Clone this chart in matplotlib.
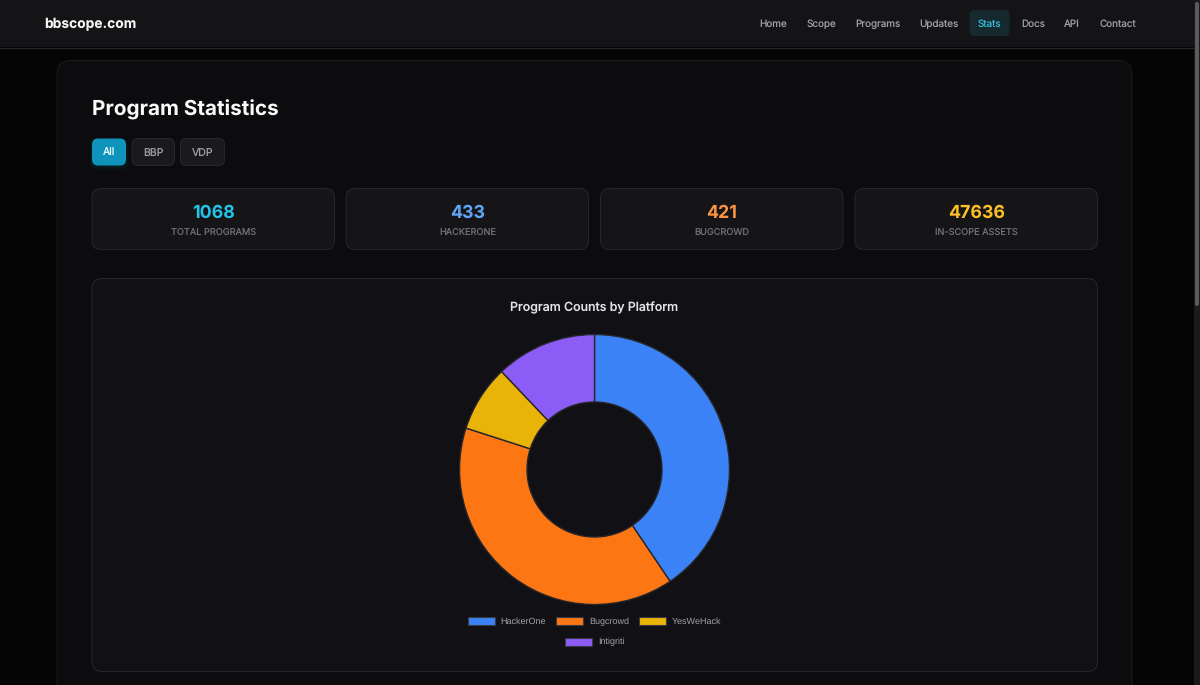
import matplotlib
matplotlib.use('Agg')
import matplotlib.pyplot as plt
from matplotlib.patches import FancyBboxPatch, Rectangle

W, H = 1200, 685

platforms = ['HackerOne', 'Bugcrowd', 'YesWeHack', 'Intigriti']
program_counts = [433, 421, 85, 129]
platform_colors = ['#3b82f6', '#fc7714', '#eab308', '#8b5cf6']

nav_labels = ['Home', 'Scope', 'Programs', 'Updates', 'Stats', 'Docs', 'API', 'Contact']
nav_x = [773.5, 821.5, 878, 939, 989.5, 1033, 1072, 1118]

filter_labels = ['All', 'BBP', 'VDP']

stat_values = ['1068', '433', '421', '47636']
stat_labels = ['TOTAL PROGRAMS', 'HACKERONE', 'BUGCROWD', 'IN-SCOPE ASSETS']
stat_colors = ['#22c3e6', '#60a5fa', '#fb923c', '#fbbf24']

plt.rcParams['font.family'] = ['Inter', 'DejaVu Sans']
plt.rcParams['text.hinting'] = 'none'
plt.rcParams['text.hinting_factor'] = 1


def px(size):
    # css pixels to points at dpi 100
    return size * 0.72


def box(ax, x, y, w, h, r, face, edge='none', lw=0.7, z=1, alpha=None):
    p = FancyBboxPatch((x, y), w, h, boxstyle='round,pad=0,rounding_size=%s' % r,
                       facecolor=face, edgecolor=edge, linewidth=lw, zorder=z, alpha=alpha)
    ax.add_patch(p)
    return p


fig = plt.figure(figsize=(12, 6.85), dpi=100, facecolor='#050506')
bg = fig.add_axes([0, 0, 1, 1])
bg.set_xlim(0, W)
bg.set_ylim(H, 0)
bg.axis('off')

# header
bg.add_patch(Rectangle((0, 0), 1195, 47, facecolor='#141416', edgecolor='none', zorder=2))
bg.plot([0, 1195], [47.5, 47.5], color='#2a2a2d', lw=0.7, zorder=3)
bg.text(44.5, 24, 'bbscope.com', color='#f4f4f5', fontsize=px(13.8), fontweight='bold', va='center', zorder=4)

box(bg, 969.5, 10, 40, 26, 5, '#16292f', z=3)
for label, x in zip(nav_labels, nav_x):
    c = '#38bdd8' if label == 'Stats' else '#a1a1aa'
    bg.text(x, 27, label, color=c, fontsize=px(9.9), ha='center', va='baseline', zorder=4)

# scrollbar
bg.add_patch(Rectangle((1194, 0), 6, H, facecolor='#1b1b1d', edgecolor='none', zorder=5))
box(bg, 1195, 2, 4, 304, 2, '#5a5a5f', z=6)

# main card
box(bg, 57, 60.5, 1075, 660, 14, '#0c0c0e', edge='#1b1b1e')
bg.text(92, 109.5, 'Program Statistics', color='#fafafa', fontsize=px(20.7), fontweight='bold', va='center', zorder=4)

# filter buttons
for i in range(3):
    box(bg, 92 - i, 139 + i, 34 + 2 * i, 27 + i, 7, '#0891b2', z=1.5, alpha=0.05)
box(bg, 92, 138.5, 34, 27, 6, '#0e93ba', z=3)
box(bg, 132, 138.5, 42.5, 27, 6, '#1a1a1c', edge='#28282b', z=3)
box(bg, 180.5, 138.5, 44, 27, 6, '#1a1a1c', edge='#28282b', z=3)
for label, x, y, c in zip(filter_labels, [108.8, 153, 202.5], [155, 155.5, 155.5], ['#f4fbfd', '#a1a1aa', '#a1a1aa']):
    bg.text(x, y, label, color=c, fontsize=px(10.5), ha='center', va='baseline', zorder=4)

# stat cards
card_x = [92, 346, 600.5, 855]
for x, val, lab, c in zip(card_x, stat_values, stat_labels, stat_colors):
    box(bg, x, 188.5, 242.5, 61, 9, '#151517', edge='#27272a', z=3)
    bg.text(x + 121.5, 218, val, color=c, fontsize=px(17.8), fontweight='bold', ha='center', va='baseline', zorder=4)
    bg.text(x + 121.5, 235, lab, color='#6f6f76', fontsize=px(9.2), ha='center', va='baseline', zorder=4)

# chart card
box(bg, 92, 278.5, 1005.5, 393, 10, '#111115', edge='#27272a', z=3)
bg.text(594.5, 307.5, 'Program Counts by Platform', color='#e4e4e7', fontsize=px(12.4), fontweight='medium',
        ha='center', va='center', zorder=4)

# donut, drawn on own axes since the pixel axes is flipped
cx, cy, r = 594.5, 469.5, 135
pie_ax = fig.add_axes([(cx - r) / W, 1 - (cy + r) / H, 2 * r / W, 2 * r / H])
pie_ax.set_zorder(5)
wedges, _ = pie_ax.pie(program_counts, colors=platform_colors, startangle=90, counterclock=False, radius=1,
                       wedgeprops={'width': 0.5, 'edgecolor': '#26262b', 'linewidth': 1.0})
pie_ax.set_xlim(-1, 1)
pie_ax.set_ylim(-1, 1)
for w in wedges:
    w.set_clip_on(False)

# legend wraps onto two rows
fs = 8.6
rows = [(wedges[:3], platforms[:3], 621.5), (wedges[3:], platforms[3:], 642)]
for handles, names, y in rows:
    leg = fig.legend(handles, names, loc='center', bbox_to_anchor=(594.5 / W, 1 - y / H), ncol=len(names),
                     frameon=False, labelcolor='#a1a1aa', handlelength=27 / fs, handleheight=1.05,
                     handletextpad=6 / fs, columnspacing=10 / fs, borderpad=0, borderaxespad=0,
                     prop={'family': ['Liberation Sans'], 'size': px(fs)})
    leg.set_zorder(6)
    for h in leg.legend_handles:
        h.set_linewidth(0.8)
        h.set_edgecolor('#3a3a44')

fig.savefig('out.png', dpi=100, facecolor=fig.get_facecolor())
